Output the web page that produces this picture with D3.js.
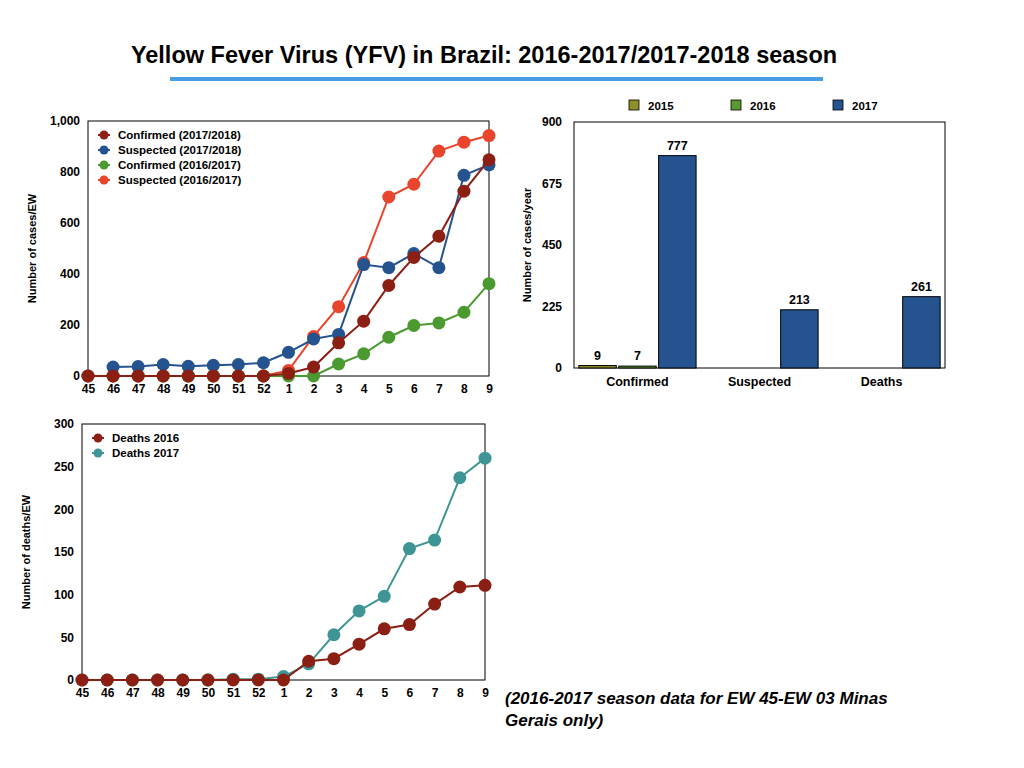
<!DOCTYPE html>
<html><head><meta charset="utf-8">
<script src="https://cdn.jsdelivr.net/npm/d3@7"></script>
<style>body{margin:0;background:#fff}svg{font-family:"Liberation Sans",Arial,sans-serif;font-weight:bold}</style>
</head><body>
<svg id="c" width="1024" height="768"></svg>
<script>
// weeks and per-week series
var weeks = ["45","46","47","48","49","50","51","52","1","2","3","4","5","6","7","8","9"];
var confirmed1718 = [0,0,0,0,0,0,0,0,10,35,130,215,355,465,548,725,848];
var suspected1718 = [null,35,37,45,38,42,45,52,93,145,163,437,425,480,425,787,828];
var confirmed1617 = [0,0,0,0,0,0,0,0,0,0,47,87,152,198,208,250,362];
var suspected1617 = [0,0,0,0,0,0,0,0,22,155,272,445,702,752,882,917,943];
var deaths2016 = [0,0,0,0,0,0,0,0,0,22,25,42,60,65,89,109,111];
var deaths2017 = [0,0,0,0,0,0,1,1,4,19,53,81,98,154,164,237,260];
// yearly totals
var barCats = ["Confirmed","Suspected","Deaths"];
var barYears = ["2015","2016","2017"];
var y2015 = [9,0,0], y2016 = [7,0,0], y2017 = [777,213,261];

var svg = d3.select("#c");

svg.append("text").attr("x",484).attr("y",63).attr("text-anchor","middle")
  .attr("font-size",23.5).text("Yellow Fever Virus (YFV) in Brazil: 2016-2017/2017-2018 season");
svg.append("line").attr("x1",170).attr("x2",823).attr("y1",79).attr("y2",79)
  .attr("stroke","#4a9ee6").attr("stroke-width",4);

function lineChart(box, yMax, yTicks, yLabel, series, order) {
    var x = d3.scalePoint().domain(weeks).range([box.l, box.r]);
    var y = d3.scaleLinear().domain([0,yMax]).range([box.b, box.t]);
    svg.append("rect").attr("x",box.l).attr("y",box.t).attr("width",box.r-box.l)
      .attr("height",box.b-box.t).attr("fill","none").attr("stroke","#000");
    svg.append("g").attr("transform","translate(0,"+box.b+")")
      .call(d3.axisBottom(x).tickSize(0).tickPadding(8))
      .call(function(g){g.select(".domain").remove();})
      .selectAll("text").attr("font-size",12).attr("fill","#000");
    svg.append("g").attr("transform","translate("+box.l+",0)")
      .call(d3.axisLeft(y).tickValues(yTicks).tickSize(0).tickPadding(8).tickFormat(d3.format(",")))
      .call(function(g){g.select(".domain").remove();})
      .selectAll("text").attr("font-size",12).attr("fill","#000");
    svg.append("text").attr("transform","translate("+(box.l-52)+","+((box.t+box.b)/2)+") rotate(-90)")
      .attr("text-anchor","middle").attr("font-size",11).text(yLabel);
    var line = d3.line().defined(function(d){return d!=null;})
      .x(function(d,i){return x(weeks[i]);}).y(function(d){return y(d);});
    order.forEach(function(j){
        var s = series[j];
        svg.append("path").datum(s.values).attr("d",line).attr("fill","none")
          .attr("stroke",s.color).attr("stroke-width",2);
        svg.append("g").selectAll("circle").data(s.values.map(function(v,i){return {v:v,i:i};})
            .filter(function(d){return d.v!=null;}))
          .join("circle").attr("cx",function(d){return x(weeks[d.i]);})
          .attr("cy",function(d){return y(d.v);}).attr("r",6.5).attr("fill",s.color);
    });
    series.forEach(function(s,j){
        var ly = box.t+14+j*15;
        svg.append("line").attr("x1",box.l+10).attr("x2",box.l+22).attr("y1",ly).attr("y2",ly)
          .attr("stroke",s.color).attr("stroke-width",2);
        svg.append("circle").attr("cx",box.l+16).attr("cy",ly).attr("r",4.5).attr("fill",s.color);
        svg.append("text").attr("x",box.l+30).attr("y",ly+4).attr("font-size",11.5).text(s.name);
    });
}

lineChart({l:88,r:489,t:121,b:376}, 1000, [0,200,400,600,800,1000], "Number of cases/EW", [
    {name:"Confirmed (2017/2018)", color:"#8b1f14", values:confirmed1718},
    {name:"Suspected (2017/2018)", color:"#24538f", values:suspected1718},
    {name:"Confirmed (2016/2017)", color:"#4a9a2f", values:confirmed1617},
    {name:"Suspected (2016/2017)", color:"#e8452c", values:suspected1617}
], [3,2,1,0]);
lineChart({l:82,r:485,t:424,b:680}, 300, [0,50,100,150,200,250,300], "Number of deaths/EW", [
    {name:"Deaths 2016", color:"#8b1f14", values:deaths2016},
    {name:"Deaths 2017", color:"#3f9595", values:deaths2017}
], [1,0]);

// bar chart
var bl=574, br=945, bt=122, bb=368;
var yearColors = ["#8f8f2a","#5a9a2e","#24538f"];
var yearVals = [y2015,y2016,y2017];
var bx = d3.scaleBand().domain(barCats).range([bl,br]).paddingInner(0).paddingOuter(0.02);
var bsub = d3.scaleBand().domain(barYears).range([0,bx.bandwidth()]).padding(0.06);
var by = d3.scaleLinear().domain([0,900]).range([bb,bt]);
svg.append("rect").attr("x",bl).attr("y",bt).attr("width",br-bl).attr("height",bb-bt)
  .attr("fill","none").attr("stroke","#000");
svg.append("g").attr("transform","translate("+bl+",0)")
  .call(d3.axisLeft(by).tickValues([0,225,450,675,900]).tickSize(0).tickPadding(12))
  .call(function(g){g.select(".domain").remove();})
  .selectAll("text").attr("font-size",12).attr("fill","#000");
svg.append("g").attr("transform","translate(0,"+bb+")")
  .call(d3.axisBottom(bx).tickSize(0).tickPadding(9))
  .call(function(g){g.select(".domain").remove();})
  .selectAll("text").attr("font-size",12.5).attr("fill","#000");
svg.append("text").attr("transform","translate(531,"+((bt+bb)/2)+") rotate(-90)")
  .attr("text-anchor","middle").attr("font-size",11).text("Number of cases/year");
barYears.forEach(function(yr,k){
    var data = barCats.map(function(c,i){return {c:c,v:yearVals[k][i]};});
    svg.append("g").selectAll("rect").data(data).join("rect")
      .attr("x",function(d){return bx(d.c)+bsub(yr);}).attr("width",bsub.bandwidth())
      .attr("y",function(d){return by(d.v);}).attr("height",function(d){return bb-by(d.v);})
      .attr("fill",yearColors[k]).attr("stroke","#000").attr("stroke-width",1);
    svg.append("g").selectAll("text").data(data.filter(function(d){return d.v>0;})).join("text")
      .attr("x",function(d){return bx(d.c)+bsub(yr)+bsub.bandwidth()/2;})
      .attr("y",function(d){return by(d.v)-6;}).attr("text-anchor","middle").attr("font-size",12.5)
      .text(function(d){return d.v;});
    var lx = [629,731,833][k];
    svg.append("rect").attr("x",lx).attr("y",100).attr("width",10).attr("height",10)
      .attr("fill",yearColors[k]).attr("stroke","#000").attr("stroke-width",0.8);
    svg.append("text").attr("x",lx+19).attr("y",110).attr("font-size",11.5).text(yr);
});

svg.append("text").attr("x",505).attr("y",704).attr("font-size",17).attr("font-style","italic")
  .text("(2016-2017 season data for EW 45-EW 03 Minas");
svg.append("text").attr("x",505).attr("y",726).attr("font-size",17).attr("font-style","italic")
  .text("Gerais only)");
</script>
</body></html>
